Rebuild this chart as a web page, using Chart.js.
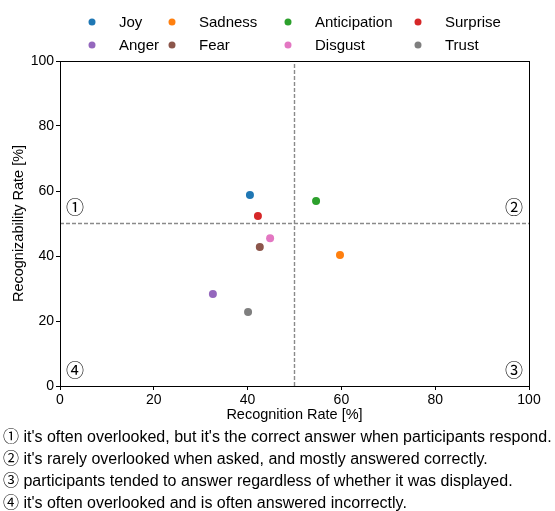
<!DOCTYPE html>
<html>
<head>
<meta charset="utf-8">
<script src="https://cdn.jsdelivr.net/npm/chart.js@4/dist/chart.umd.min.js"></script>
<style>
  body { margin: 0; background: #fff; }
  canvas { display: block; }
</style>
</head>
<body>
<canvas id="chart" width="555" height="511"></canvas>
<script>
// emotion categories and their rates
const emotions = ['Joy', 'Sadness', 'Anticipation', 'Surprise', 'Anger', 'Fear', 'Disgust', 'Trust'];
const recognitionRate = [40.5, 59.7, 54.6, 42.2, 32.6, 42.6, 44.8, 40.1];
const recognizabilityRate = [58.8, 40.3, 56.9, 52.3, 28.3, 42.8, 45.5, 22.8];
const colors = ['#1f77b4', '#ff7f0e', '#2ca02c', '#d62728', '#9467bd', '#8c564b', '#e377c2', '#7f7f7f'];

// quadrant split lines and axis ticks
const threshold = [50, 50];
const axisRange = [0, 100];
const tickStep = 20;

// quadrant markers in data coords
const quadrantLabels = ['①', '②', '③', '④'];
const quadrantX = [3.2, 96.8, 96.8, 3.2];
const quadrantY = [54.5, 54.5, 4.3, 4.3];

const notes = [
  "① it's often overlooked, but it's the correct answer when participants respond.",
  "② it's rarely overlooked when asked, and mostly answered correctly.",
  "③ participants tended to answer regardless of whether it was displayed.",
  "④ it's often overlooked and is often answered incorrectly."
];

const FONT = "'Liberation Sans', Arial, 'Noto Sans CJK JP', sans-serif";

const datasets = emotions.map((name, i) => ({
  label: name,
  data: [{ x: recognitionRate[i], y: recognizabilityRate[i] }],
  backgroundColor: colors[i],
  borderColor: colors[i],
  pointRadius: 4,
  pointHoverRadius: 4,
  borderWidth: 0
}));

// dashed split lines
const dashed = {
  type: 'line',
  borderColor: '#8a8a8a',
  borderWidth: 1.4,
  borderDash: [4, 2],
  pointRadius: 0,
  fill: false
};
datasets.push({ ...dashed, label: '_v', data: [{ x: threshold[0], y: axisRange[0] }, { x: threshold[0], y: axisRange[1] }] });
datasets.push({ ...dashed, label: '_h', data: [{ x: axisRange[0], y: threshold[1] }, { x: axisRange[1], y: threshold[1] }] });

const extrasPlugin = {
  id: 'extras',
  afterDraw(chart) {
    const ctx = chart.ctx;
    const { left, top, right, bottom } = chart.chartArea;
    const xs = chart.scales.x, ys = chart.scales.y;
    ctx.save();

    // full frame around the plot
    ctx.strokeStyle = '#000';
    ctx.lineWidth = 1;
    ctx.strokeRect(Math.round(left) + 0.5, Math.round(top) + 0.5, Math.round(right - left), Math.round(bottom - top));

    // quadrant numbers
    ctx.fillStyle = '#000';
    ctx.font = '18px ' + FONT;
    ctx.textAlign = 'center';
    ctx.textBaseline = 'middle';
    quadrantLabels.forEach((t, i) => {
      ctx.fillText(t, xs.getPixelForValue(quadrantX[i]), ys.getPixelForValue(quadrantY[i]));
    });

    // legend, 4 columns x 2 rows
    const colX = [92, 172, 288, 418];
    const rowY = [22, 45];
    ctx.font = '15px ' + FONT;
    ctx.textAlign = 'left';
    emotions.forEach((name, i) => {
      const cx = colX[i % 4], cy = rowY[Math.floor(i / 4)];
      ctx.fillStyle = colors[i];
      ctx.beginPath();
      ctx.arc(cx, cy, 3.5, 0, Math.PI * 2);
      ctx.fill();
      ctx.fillStyle = '#000';
      ctx.fillText(name, cx + 27, cy + 1);
    });

    // notes under the chart
    ctx.font = '16px ' + FONT;
    notes.forEach((t, i) => {
      ctx.fillText(t, 3, 438 + i * 21.8);
    });
    ctx.restore();
  }
};

const axisCommon = {
  type: 'linear',
  min: axisRange[0],
  max: axisRange[1],
  ticks: { stepSize: tickStep, color: '#000', font: { family: FONT, size: 14 }, padding: 2 },
  grid: { drawOnChartArea: false, drawTicks: true, tickLength: 4, color: '#000' },
  border: { color: '#000', width: 1 }
};

new Chart(document.getElementById('chart'), {
  type: 'scatter',
  data: { datasets },
  options: {
    responsive: false,
    animation: false,
    layout: { padding: { top: 61, right: 26, bottom: 85, left: 0 } },
    plugins: { legend: { display: false }, tooltip: { enabled: false } },
    scales: {
      x: {
        ...axisCommon,
        title: { display: true, text: 'Recognition Rate [%]', color: '#000', font: { family: FONT, size: 14.5 }, padding: { top: 0, bottom: 2 } },
        afterFit(scale) { scale.height = 40; }
      },
      y: {
        ...axisCommon,
        title: { display: true, text: 'Recognizability Rate [%]', color: '#000', font: { family: FONT, size: 14.5 }, padding: { top: 10, bottom: 0 } },
        afterFit(scale) { scale.width = 60; }
      }
    }
  },
  plugins: [extrasPlugin]
});
</script>
</body>
</html>
